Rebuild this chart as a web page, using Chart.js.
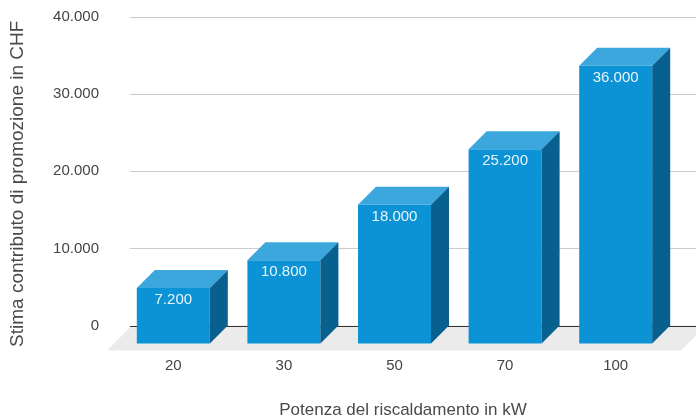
<!DOCTYPE html>
<html>
<head>
<meta charset="utf-8">
<script src="https://cdn.jsdelivr.net/npm/chart.js@4.4.1/dist/chart.umd.min.js"></script>
<style>
  html, body { margin: 0; padding: 0; background: #fff; }
  #wrap { width: 696px; height: 418px; }
</style>
</head>
<body>
<div id="wrap"><canvas id="chart"></canvas></div>
<script>
const categories = ["20", "30", "50", "70", "100"];
const values = [7200, 10800, 18000, 25200, 36000];
const yTicks = [0, 10000, 20000, 30000, 40000];

const xTitle = "Potenza del riscaldamento in kW";
const yTitle = "Stima contributo di promozione in CHF";

const DEPTH = 18;
const FONT = "'Liberation Sans', Arial, sans-serif";

function formatIt(v) {
  return String(v).replace(/\B(?=(\d{3})+(?!\d))/g, ".");
}

// floor, gridlines, the 3D faces of the bars and the axis titles
const fake3d = {
  id: "fake3d",
  beforeDatasetsDraw(chart) {
    const { ctx, chartArea, scales } = chart;
    const b = chartArea.bottom;

    ctx.save();
    ctx.fillStyle = "#ebebeb";
    ctx.beginPath();
    ctx.moveTo(chartArea.left - 11, b + 25);
    ctx.lineTo(chartArea.right + 10, b + 25);
    ctx.lineTo(chartArea.right + 35, b);
    ctx.lineTo(chartArea.left + 14, b);
    ctx.closePath();
    ctx.fill();

    yTicks.forEach(t => {
      const y = Math.round(scales.y.getPixelForValue(t)) + 0.5;
      ctx.strokeStyle = t === 0 ? "#333" : "#cccccc";
      ctx.lineWidth = 1;
      ctx.beginPath();
      ctx.moveTo(chartArea.left + 12, y);
      ctx.lineTo(chart.width, y);
      ctx.stroke();
    });
    ctx.restore();

    // front faces are drawn by chart.js, pushed down to the front plane
    ctx.save();
    ctx.translate(0, DEPTH);
  },
  afterDatasetsDraw(chart) {
    const { ctx } = chart;
    ctx.restore();

    const meta = chart.getDatasetMeta(0);
    ctx.save();
    meta.data.forEach((bar, i) => {
      const l = bar.x - bar.width / 2;
      const r = bar.x + bar.width / 2;
      const top = bar.y + DEPTH;
      const base = bar.base + DEPTH;

      ctx.fillStyle = "#3ca7dd";
      ctx.beginPath();
      ctx.moveTo(l, top);
      ctx.lineTo(l + DEPTH, top - DEPTH);
      ctx.lineTo(r + DEPTH, top - DEPTH);
      ctx.lineTo(r, top);
      ctx.closePath();
      ctx.fill();

      ctx.fillStyle = "#07608e";
      ctx.beginPath();
      ctx.moveTo(r, top);
      ctx.lineTo(r + DEPTH, top - DEPTH);
      ctx.lineTo(r + DEPTH, base - DEPTH);
      ctx.lineTo(r, base);
      ctx.closePath();
      ctx.fill();

      ctx.fillStyle = "#e8f4fb";
      ctx.font = "15px " + FONT;
      ctx.textAlign = "center";
      ctx.textBaseline = "middle";
      ctx.fillText(formatIt(values[i]), bar.x, top + 12);
    });
    ctx.restore();
  },
  afterDraw(chart) {
    const { ctx, chartArea } = chart;
    ctx.save();
    ctx.fillStyle = "#4a4a4a";
    ctx.textAlign = "center";
    ctx.textBaseline = "middle";
    ctx.font = "17px " + FONT;
    ctx.fillText(xTitle, chartArea.left + 285, 410);
    ctx.translate(18, (chartArea.top + chartArea.bottom + 25) / 2);
    ctx.rotate(-Math.PI / 2);
    ctx.font = "19px " + FONT;
    ctx.fillText(yTitle, 0, 0);
    ctx.restore();
  }
};

new Chart(document.getElementById("chart"), {
  type: "bar",
  data: {
    labels: categories,
    datasets: [{
      data: values,
      backgroundColor: "#0c93d6",
      borderWidth: 0,
      categoryPercentage: 1,
      barPercentage: 0.66,
      clip: false
    }]
  },
  options: {
    responsive: true,
    maintainAspectRatio: false,
    animation: false,
    layout: { padding: { top: 17, right: 25, left: 0, bottom: 0 } },
    plugins: { legend: { display: false }, tooltip: { enabled: false } },
    scales: {
      x: {
        afterFit: s => { s.height = 92.5; s.paddingLeft = 0; s.paddingRight = 0; },
        grid: { display: false, drawTicks: false },
        border: { display: false },
        ticks: { color: "#444", font: { family: FONT, size: 15 }, padding: 31 }
      },
      y: {
        min: 0, max: 40000,
        afterFit: s => { s.width = 118; s.paddingTop = 0; s.paddingBottom = 0; },
        afterBuildTicks: axis => { axis.ticks = yTicks.map(v => ({ value: v })); },
        grid: { display: false, drawTicks: false },
        border: { display: false },
        ticks: { color: "#444", font: { family: FONT, size: 15 }, padding: 19, callback: v => formatIt(v) }
      }
    }
  },
  plugins: [fake3d]
});
</script>
</body>
</html>
